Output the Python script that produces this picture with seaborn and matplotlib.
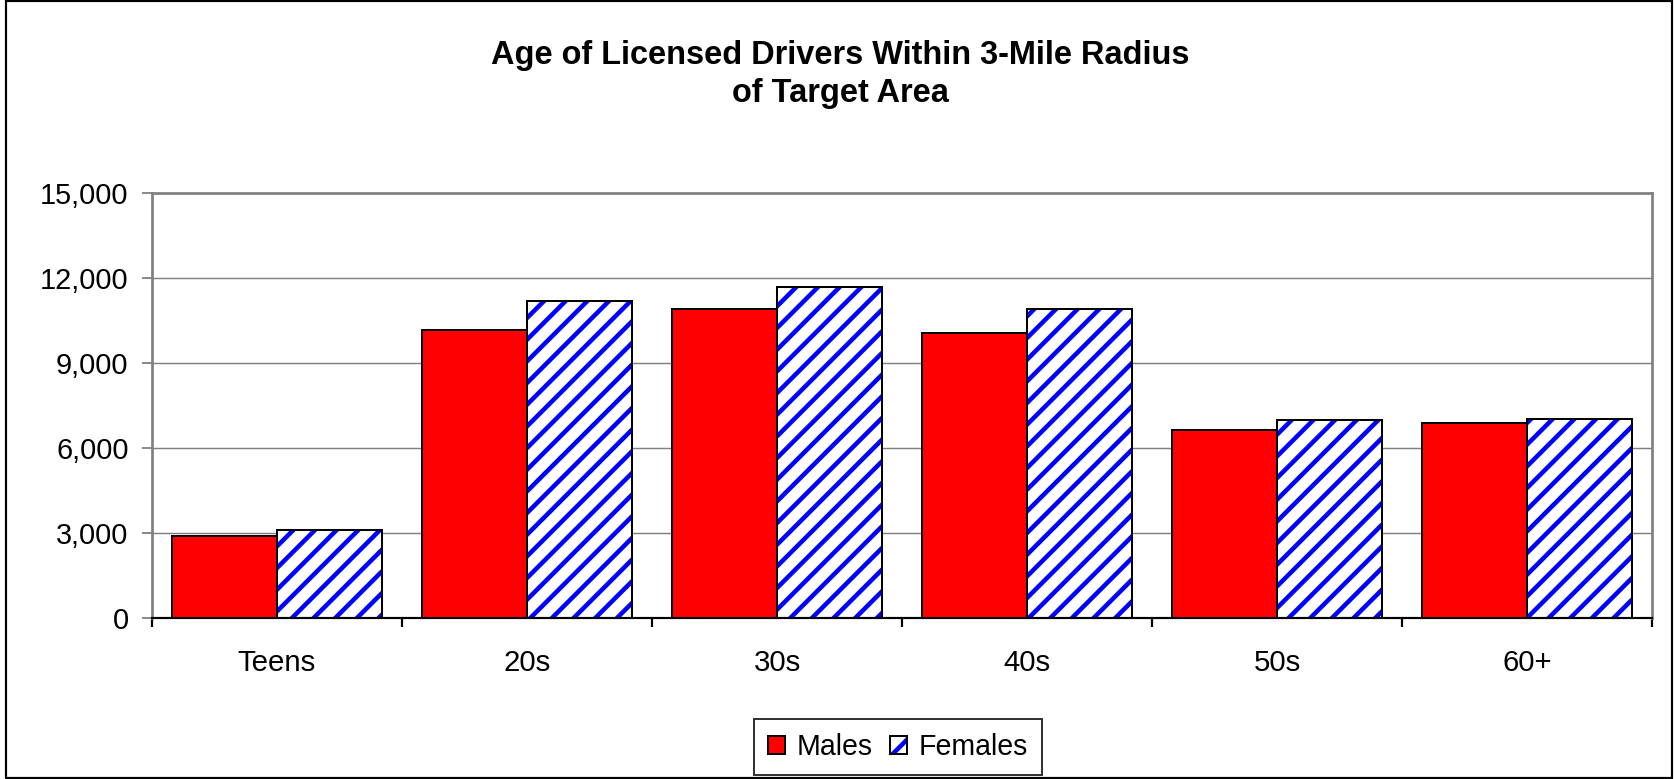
import numpy as np
import pandas as pd
import seaborn as sns
import matplotlib.pyplot as plt
from matplotlib.patches import Patch, Rectangle
from matplotlib.ticker import FuncFormatter

# values
categories = ["Teens", "20s", "30s", "40s", "50s", "60+"]
series = ["Males", "Females"]
males = [2900, 10165, 10910, 10075, 6620, 6900]
females = [3100, 11190, 11680, 10910, 7000, 7010]
yticks = [0, 3000, 6000, 9000, 12000, 15000]
title = "Age of Licensed Drivers Within 3-Mile Radius\nof Target Area"

df = pd.DataFrame({
    "age": categories * 2,
    "sex": [series[0]] * len(males) + [series[1]] * len(females),
    "drivers": males + females,
})

sns.set_style("white")
plt.rcParams["font.family"] = ["Liberation Sans", "DejaVu Sans"]
plt.rcParams["text.color"] = "black"
plt.rcParams["hatch.linewidth"] = 2.5

RED = "#ff0000"
BLUE = "#0000ff"
GRAY = "#808080"
DPI = 130
W, H = 1674, 779

fig = plt.figure(figsize=(W / DPI, H / DPI), dpi=DPI, facecolor="white")
ax = fig.add_axes([152 / W, 1 - 618 / H, 1500 / W, 425 / H])

sns.barplot(data=df, x="age", y="drivers", hue="sex", order=categories,
            hue_order=series, palette={"Males": RED, "Females": "white"},
            width=0.84, saturation=1, edgecolor="black", linewidth=1.1,
            legend=False, ax=ax)

# blue diagonal stripes for the female bars, black outline on top
for bar in ax.containers[1]:
    bar.set_hatch("//")
    bar.set_edgecolor(BLUE)
    bar.set_linewidth(0)
    ax.add_patch(Rectangle(bar.get_xy(), bar.get_width(), bar.get_height(),
                           fill=False, edgecolor="black", linewidth=1.1,
                           zorder=bar.get_zorder() + 0.1))

ax.set_xlim(-0.5, len(categories) - 0.5)
ax.set_ylim(yticks[0], yticks[-1])
ax.set_yticks(yticks)
ax.yaxis.set_major_formatter(FuncFormatter(lambda v, p: f"{int(v):,}"))
ax.set_xticks(np.arange(len(categories) + 1) - 0.5, minor=True)
ax.set_xlabel("")
ax.set_ylabel("")

ax.yaxis.grid(True, color=GRAY, linewidth=0.8)
ax.set_axisbelow(True)
for side in ["left", "top", "right"]:
    ax.spines[side].set_color(GRAY)
    ax.spines[side].set_linewidth(1.5)
ax.spines["bottom"].set_color("black")
ax.spines["bottom"].set_linewidth(1.2)

ax.tick_params(axis="x", which="major", bottom=False, length=0, pad=17,
               labelsize=16.3, labelcolor="black")
ax.tick_params(axis="x", which="minor", bottom=True, length=5, width=1.2,
               color="black", direction="out")
ax.tick_params(axis="y", left=True, length=5.5, width=1, color=GRAY,
               pad=7.5, labelsize=16, labelcolor="black")

fig.text(840 / W, 1 - 40 / H, title, ha="center", va="top", fontsize=18,
         fontweight="bold", linespacing=1.3, color="black")

handles = [
    Patch(facecolor=RED, edgecolor="black", linewidth=1.1),
    (Patch(facecolor="white", edgecolor=BLUE, hatch="//", linewidth=0),
     Patch(facecolor="none", edgecolor="black", linewidth=1.1)),
]
leg = fig.legend(handles, series, loc="center",
                 bbox_to_anchor=(898 / W, 1 - 747 / H), ncol=2,
                 frameon=True, fancybox=False, edgecolor="black",
                 fontsize=15.8, handlelength=0.6, handleheight=0.6,
                 handletextpad=0.4, columnspacing=0.6, borderpad=0.5,
                 labelcolor="black")
leg.get_frame().set_linewidth(1.1)

# outer border of the chart area
fig.add_artist(Rectangle((6 / W, 1 / H), 1666 / W, 777 / H,
                         transform=fig.transFigure, fill=False,
                         edgecolor="black", linewidth=1.2))

fig.savefig("out.png", dpi=DPI)
